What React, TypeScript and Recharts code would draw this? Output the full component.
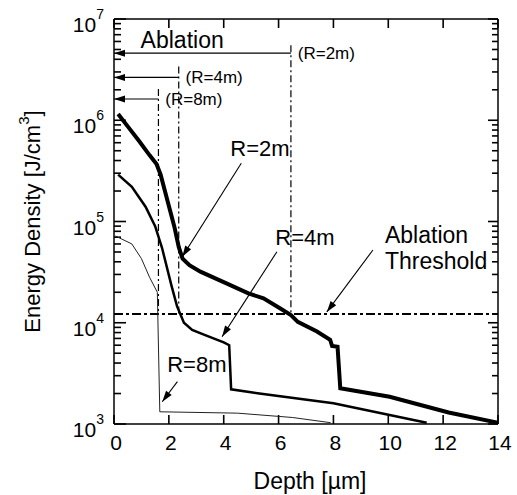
import {
  ComposedChart,
  Line,
  XAxis,
  YAxis,
  ReferenceLine,
  ReferenceDot,
  Label,
} from 'recharts';

// depth in µm, energy density in J/cm^3
const r2Depth = [0.15, 0.5, 0.9, 1.3, 1.55, 1.7, 1.95, 2.2, 2.36, 2.5, 2.75, 3.15, 4.1, 4.9, 5.45, 6.05, 6.45, 6.7, 7.4, 7.88, 7.95, 8.15, 8.25, 10.05, 12.2, 14];
const r2Density = [1.15e6, 8.7e5, 6.3e5, 4.5e5, 3.7e5, 2.9e5, 1.6e5, 8.9e4, 5.6e4, 4.3e4, 3.7e4, 3.2e4, 2.45e4, 1.95e4, 1.74e4, 1.39e4, 1.19e4, 1.02e4, 8.2e3, 6.8e3, 5.9e3, 5.8e3, 2.25e3, 1.86e3, 1.3e3, 1.03e3];

const r4Depth = [0.15, 0.65, 1.15, 1.5, 1.75, 2.1, 2.3, 2.55, 2.85, 3.3, 4.0, 4.2, 4.27, 5.3, 8.0, 11.4];
const r4Density = [2.9e5, 2.2e5, 1.4e5, 9.0e4, 5.5e4, 2.3e4, 1.45e4, 1.0e4, 8.5e3, 7.6e3, 6.4e3, 6.0e3, 2.2e3, 2.0e3, 1.6e3, 1.03e3];

const r8Depth = [0.05, 0.65, 1.0, 1.3, 1.58, 1.67, 4.5, 6.5, 7.9];
const r8Density = [7.2e4, 6.0e4, 4.3e4, 2.8e4, 2.0e4, 1.32e3, 1.28e3, 1.16e3, 1.03e3];

const thresholdDensity = 1.22e4;

// ablation depth for each radius and the level of its arrow
const ablationNames = ['(R=2m)', '(R=4m)', '(R=8m)'];
const ablationDepth = [6.45, 2.36, 1.62];
const ablationArrowLevel = [4.6e6, 2.65e6, 1.62e6];
const ablationLineTop = [5.5e6, 3.4e6, 2.04e6];

const depthTicks = [0, 2, 4, 6, 8, 10, 12, 14];
const majorDensityTicks = [1e3, 1e4, 1e5, 1e6, 1e7];
const densityTicks = [
  1e3, 2e3, 3e3, 4e3, 5e3, 6e3, 7e3, 8e3, 9e3,
  1e4, 2e4, 3e4, 4e4, 5e4, 6e4, 7e4, 8e4, 9e4,
  1e5, 2e5, 3e5, 4e5, 5e5, 6e5, 7e5, 8e5, 9e5,
  1e6, 2e6, 3e6, 4e6, 5e6, 6e6, 7e6, 8e6, 9e6,
  1e7,
];

// callout arrows: [fromDepth, fromDensity, toDepth, toDensity]
const callouts = [
  [4.64, 3.76e5, 2.49, 4.49e4],
  [5.94, 5.03e4, 3.94, 7.28e3],
  [9.44, 5.23e4, 7.76, 1.28e4],
  [2.31, 2.62e3, 1.76, 1.66e3],
];

const calloutTexts = ['R=2m', 'R=4m', 'Ablation', 'Threshold', 'R=8m', 'Ablation'];
const calloutTextDepth = [4.24, 5.88, 9.88, 9.88, 1.94, 0.97];
const calloutTextDensity = [5.3e5, 6.95e4, 7.36e4, 4.07e4, 3.83e3, 6.2e6];

const zip = (xs: number[], ys: number[]) => xs.map((x, i) => ({ x, y: ys[i] }));
const r2Data = zip(r2Depth, r2Density);
const r4Data = zip(r4Depth, r4Density);
const r8Data = zip(r8Depth, r8Density);

const FONT = '"Liberation Sans", Arial, Helvetica, sans-serif';
const TICK = '#000';

const isMajor = (v: number) => majorDensityTicks.some((m) => Math.abs(m - v) < 1e-6 * m);

const LeftLabel = ({ x, y, payload }: any) => {
  const v = payload.value;
  if (!isMajor(v)) return <g />;
  const exp = Math.round(Math.log10(v));
  return (
    <text x={x - 8} y={y + 5} textAnchor="end" dominantBaseline="central" fontSize={21} fontFamily={FONT} fill="#000">
      <tspan>10</tspan>
      <tspan dy={-10} fontSize={14}>{exp}</tspan>
    </text>
  );
};

const BottomLabel = ({ x, y, payload }: any) => (
  <text x={x + 2} y={y + 16} textAnchor="middle" dominantBaseline="central" fontSize={21} fontFamily={FONT} fill="#000">
    {payload.value}
  </text>
);

// inward tick marks on both sides of the frame
const yTickShape = (major: boolean) => (p: any) => {
  const { x1, x2, y1 } = p;
  const l = Math.min(x1, x2);
  const r = Math.max(x1, x2);
  const inL = major ? 12 : 7;
  const inR = major ? 10 : 6;
  return (
    <g>
      <line x1={l} y1={y1} x2={l + inL} y2={y1} stroke={TICK} strokeWidth={1.6} />
      <line x1={r - inR} y1={y1} x2={r} y2={y1} stroke={TICK} strokeWidth={1.6} />
    </g>
  );
};

const xTickShape = (p: any) => {
  const { x1, y1, y2 } = p;
  const t = Math.min(y1, y2);
  const b = Math.max(y1, y2);
  return (
    <g>
      <line x1={x1} y1={t} x2={x1} y2={t + 9} stroke={TICK} strokeWidth={1.6} />
      <line x1={x1} y1={b - 9} x2={x1} y2={b} stroke={TICK} strokeWidth={1.6} />
    </g>
  );
};

const arrowHead = (x1: number, y1: number, x2: number, y2: number, len: number, half: number) => {
  const a = Math.atan2(y2 - y1, x2 - x1);
  const bx = x2 - len * Math.cos(a);
  const by = y2 - len * Math.sin(a);
  const px = -Math.sin(a) * half;
  const py = Math.cos(a) * half;
  return `${x2},${y2} ${bx + px},${by + py} ${bx - px},${by - py}`;
};

const ArrowShape = (props: any) => {
  const { x1, y1, x2, y2 } = props;
  return (
    <g>
      <line x1={x1} y1={y1} x2={x2} y2={y2} stroke="#000" strokeWidth={1.1} />
      <polygon points={arrowHead(x1, y1, x2, y2, 11, 3.5)} fill="#000" />
    </g>
  );
};

const makeText = (text: string, size: number) => (p: any) => (
  <text x={p.cx} y={p.cy} textAnchor="start" dominantBaseline="central" fontSize={size} fontFamily={FONT} fill="#000">
    {text}
  </text>
);

const YTitle = ({ viewBox }: any) => {
  const cx = viewBox.x + 32;
  const cy = viewBox.y + viewBox.height / 2;
  return (
    <text x={cx} y={cy} transform={`rotate(-90 ${cx} ${cy})`} textAnchor="middle" dominantBaseline="central" fontSize={22} fontFamily={FONT} fill="#000">
      Energy Density [J/cm<tspan dy={-9} fontSize={15}>3</tspan><tspan dy={9}>]</tspan>
    </text>
  );
};

const XTitle = ({ viewBox }: any) => (
  <text x={viewBox.x + viewBox.width / 2 + 4} y={viewBox.y + 57} textAnchor="middle" dominantBaseline="central" fontSize={23} fontFamily={FONT} fill="#000">
    Depth [µm]
  </text>
);

export default function App() {
  return (
    <div style={{ position: 'absolute', left: 0, top: 0, background: '#fff' }}>
      <ComposedChart width={517} height={495} margin={{ top: 19, right: 19, bottom: 0, left: 0 }}>
        <XAxis
          dataKey="x"
          type="number"
          domain={[0, 14]}
          ticks={depthTicks}
          interval={0}
          allowDataOverflow
          height={71}
          tickSize={0}
          tickLine={false}
          tick={<BottomLabel />}
          axisLine={{ stroke: '#000', strokeWidth: 1.5 }}
        >
          <Label content={XTitle} />
        </XAxis>
        <YAxis
          type="number"
          scale="log"
          domain={[1e3, 1e7]}
          ticks={densityTicks}
          interval={0}
          allowDataOverflow
          width={114}
          tickSize={0}
          tickLine={false}
          tick={<LeftLabel />}
          axisLine={{ stroke: '#000', strokeWidth: 1.5 }}
        >
          <Label content={YTitle} />
        </YAxis>

        {/* frame top and right */}
        <ReferenceLine y={1e7} stroke="#000" strokeWidth={1.5} />
        <ReferenceLine x={14} stroke="#000" strokeWidth={1.5} />

        {densityTicks.map((v) => (
          <ReferenceLine key={`yt-${v}`} y={v} shape={yTickShape(isMajor(v))} />
        ))}
        {depthTicks.map((v) => (
          <ReferenceLine key={`xt-${v}`} x={v} shape={xTickShape} />
        ))}

        <ReferenceLine y={thresholdDensity} stroke="#000" strokeWidth={2} strokeDasharray="9 3 3 3" />

        {ablationDepth.map((d, i) => (
          <ReferenceLine
            key={`v-${i}`}
            segment={[
              { x: d, y: ablationLineTop[i] },
              { x: d, y: thresholdDensity },
            ]}
            stroke="#000"
            strokeWidth={1.2}
            strokeDasharray="7 3 2 3"
          />
        ))}
        {ablationDepth.map((d, i) => (
          <ReferenceLine
            key={`h-${i}`}
            segment={[
              { x: d, y: ablationArrowLevel[i] },
              { x: 0, y: ablationArrowLevel[i] },
            ]}
            shape={ArrowShape}
          />
        ))}
        {ablationNames.map((name, i) => (
          <ReferenceDot key={`n-${i}`} x={ablationDepth[i] + 0.25} y={ablationArrowLevel[i]} r={0} shape={makeText(name, 17)} />
        ))}

        {callouts.map((c, i) => (
          <ReferenceLine
            key={`c-${i}`}
            segment={[
              { x: c[0], y: c[1] },
              { x: c[2], y: c[3] },
            ]}
            shape={ArrowShape}
          />
        ))}
        {calloutTexts.map((t, i) => (
          <ReferenceDot
            key={`t-${i}`}
            x={calloutTextDepth[i]}
            y={calloutTextDensity[i]}
            r={0}
            shape={makeText(t, t.startsWith('R') ? 22 : 23)}
          />
        ))}

        <Line data={r8Data} dataKey="y" type="linear" stroke="#222" strokeWidth={1} dot={false} isAnimationActive={false} />
        <Line data={r4Data} dataKey="y" type="linear" stroke="#000" strokeWidth={2.5} dot={false} isAnimationActive={false} />
        <Line data={r2Data} dataKey="y" type="linear" stroke="#000" strokeWidth={4} dot={false} isAnimationActive={false} />
      </ComposedChart>
    </div>
  );
}
